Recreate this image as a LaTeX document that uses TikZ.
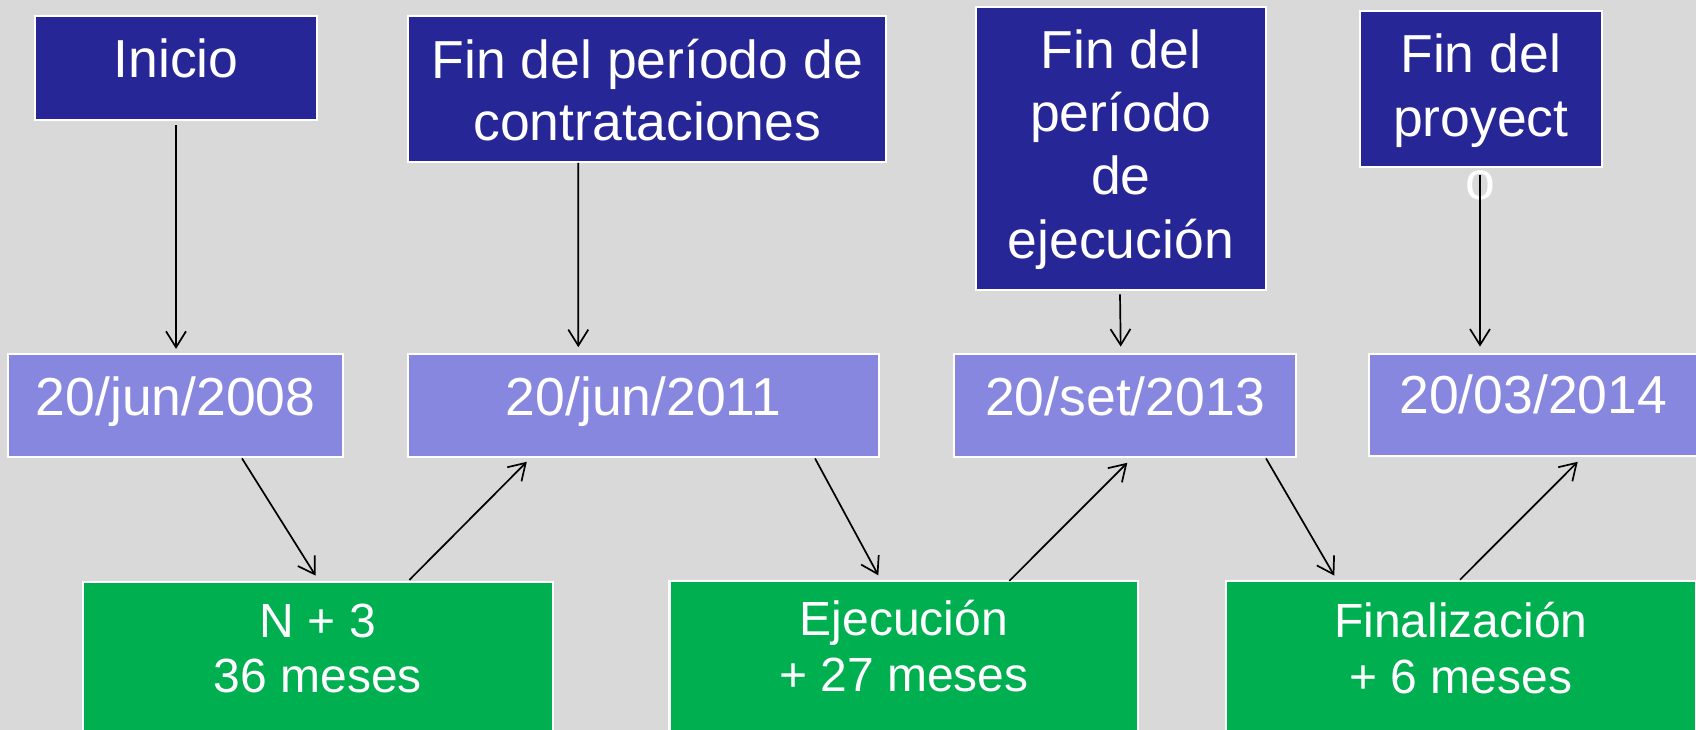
\documentclass[tikz,border=0pt]{standalone}
\usepackage{fontspec}
\setmainfont{Liberation Sans}
\usetikzlibrary{arrows.meta,calc}
\definecolor{bgcol}{RGB}{217,217,217}
\definecolor{dkblue}{RGB}{39,38,150}
\definecolor{ltblue}{RGB}{135,135,223}
\definecolor{grncol}{RGB}{0,175,80}
\begin{document}
\begin{tikzpicture}[x=1pt,y=-1pt,
  box/.style={draw=white,line width=2.2pt,inner sep=0pt,rectangle},
  darkbox/.style={box,fill=dkblue},
  datebox/.style={box,fill=ltblue},
  phasebox/.style={box,fill=grncol},
  toptxt/.style={text=white,inner sep=0pt,anchor=base,font=\fontsize{53.5}{60}\selectfont},
  grntxt/.style={text=white,inner sep=0pt,anchor=base,font=\fontsize{48}{56}\selectfont},
  arr/.style={line width=1.7pt,draw=black,-{Straight Barb[length=16pt,width=20pt]}}]
\useasboundingbox (0,0) rectangle (1696,730);
\clip (0,0) rectangle (1696,730);
\fill[bgcol] (0,0) rectangle (1696,730);

% top boxes
\node[darkbox,minimum width=282pt,minimum height=103.7pt] (b1) at (176,67.85) {};
\node[darkbox,minimum width=478pt,minimum height=145.7pt] (b2) at (647.3,88.85) {};
\node[darkbox,minimum width=289.7pt,minimum height=283.3pt] (b3) at (1120.85,148.35) {};
\node[darkbox,minimum width=242pt,minimum height=155.7pt] (b4) at (1480.7,88.85) {};

% date boxes
\node[datebox,minimum width=334.7pt,minimum height=103pt] (d1) at (175.65,405.8) {};
\node[datebox,minimum width=470.7pt,minimum height=103pt] (d2) at (643.65,405.8) {};
\node[datebox,minimum width=341.4pt,minimum height=103pt] (d3) at (1125,405.5) {};
\node[datebox,minimum width=329.3pt,minimum height=102pt] (d4) at (1533.35,404.7) {};

% phase boxes
\node[phasebox,minimum width=470pt,minimum height=177pt] (g1) at (318,670.5) {};
\node[phasebox,minimum width=468.9pt,minimum height=178pt] (g2) at (903.85,670) {};
\node[phasebox,minimum width=470pt,minimum height=177.3pt] (g3) at (1461,669.35) {};

% texts
\node[toptxt] (t1) at (176,77.7) {Inicio};
\node[toptxt] (t2a) at (647.3,78.3) {Fin del período de};
\node[toptxt] (t2b) at (647.3,140.7) {contrataciones};
\node[toptxt] (t3a) at (1120.85,68.3) {Fin del};
\node[toptxt] (t3b) at (1120.85,131.7) {período};
\node[toptxt] (t3c) at (1120.85,194.3) {de};
\node[toptxt] (t3d) at (1120.85,258.3) {ejecución};
\node[toptxt] (t4a) at (1480.7,72.7) {Fin del};
\node[toptxt] (t4b) at (1480.7,136.7) {proyect};
\node[toptxt] (t4c) at (1480.7,200) {o};

\node[toptxt] (s1) at (175.65,415.7) {20/jun/2008};
\node[toptxt] (s2) at (643.65,415) {20/jun/2011};
\node[toptxt] (s3) at (1125,415) {20/set/2013};
\node[toptxt] (s4) at (1533.35,413.3) {20/03/2014};

\node[grntxt] (p1a) at (318,637.3) {N + 3};
\node[grntxt] (p1b) at (318,692.3) {36 meses};
\node[grntxt] (p2a) at (903.85,635) {Ejecución};
\node[grntxt] (p2b) at (903.85,691.7) {+ 27 meses};
\node[grntxt] (p3a) at (1461,637.5) {Finalización};
\node[grntxt] (p3b) at (1461,693) {+ 6 meses};

% vertical arrows
\draw[arr] ($(b1.south)+(0,4.3)$) -- ($(d1.north)+(0.35,-4.3)$);
\draw[arr] ($(b2.south)+(-69,0)$) -- ($(d2.north)+(-65.35,-6)$);
\draw[arr] ($(b3.south)+(-0.85,3.3)$) -- ($(d3.north)+(-4.3,-6.3)$);
\draw[arr] ($(b4.south)+(-0.7,7.3)$) -- ($(d4.north)+(-53.35,-6)$);

% diagonal arrows
\draw[arr] ($(d1.south)+(66.35,0)$) -- ($(g1.north)+(-2.4,-5.3)$);
\draw[arr] ($(g1.north)+(91.4,-1)$) -- ($(d2.south)+(-116.85,3.4)$);
\draw[arr] ($(d2.south)+(171.35,0)$) -- ($(g2.north)+(-25.55,-4.6)$);
\draw[arr] ($(g2.north)+(105.45,1)$) -- ($(d3.south)+(2.3,4.7)$);
\draw[arr] ($(d3.south)+(141,0.3)$) -- ($(g3.north)+(-126.7,-4)$);
\draw[arr] ($(g3.north)+(-1,0.1)$) -- ($(d4.south)+(44.35,5)$);
\end{tikzpicture}
\end{document}
